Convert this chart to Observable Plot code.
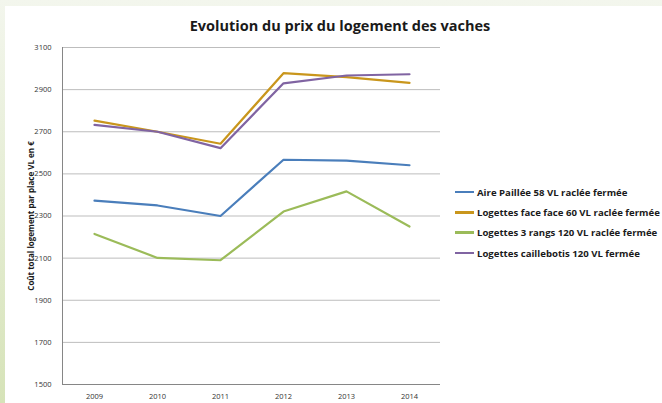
<!DOCTYPE html>
<html><head><meta charset="utf-8">
<script src="https://cdn.jsdelivr.net/npm/d3@7"></script>
<script src="https://cdn.jsdelivr.net/npm/@observablehq/plot@0.6"></script>
<style>
html,body{margin:0;padding:0;}
body{width:662px;height:403px;overflow:hidden;position:relative;background:linear-gradient(to bottom,#f3f6ed,#d6e3b8);font-family:"Open Sans",sans-serif;}
#card{position:absolute;left:5px;top:6px;width:657px;height:397px;background:#fff;overflow:hidden;}
#title{position:absolute;left:0;width:670px;top:10px;text-align:center;font-weight:bold;font-size:14.5px;color:#1a1a1a;}
#ylab{position:absolute;left:25px;top:210px;transform:translate(-50%,-50%) rotate(-90deg);white-space:nowrap;font-weight:bold;font-size:8px;color:#1a1a1a;}
#legend{position:absolute;left:450px;top:176px;font-weight:bold;font-size:9.6px;color:#1a1a1a;white-space:nowrap;}
.li{display:flex;align-items:center;height:20.3px;}
.sw{width:19px;height:2.5px;margin-right:3px;}
#chart{position:absolute;left:0;top:0;}
</style></head>
<body>
<div id="card">
<div id="chart"></div>
<div id="title">Evolution du prix du logement des vaches</div>
<div id="ylab">Coût total logement par place VL en €</div>
<div id="legend"></div>
</div>
<script>
const years = ["2009","2010","2011","2012","2013","2014"];
const seriesNames = [
  "Aire Paillée 58 VL raclée fermée",
  "Logettes face face 60 VL raclée fermée",
  "Logettes 3 rangs 120 VL raclée fermée",
  "Logettes caillebotis 120 VL fermée"
];
const airePaillee = [2373, 2350, 2300, 2567, 2563, 2541];
const logettesFaceFace = [2753, 2700, 2643, 2978, 2959, 2932];
const logettes3Rangs = [2215, 2101, 2090, 2321, 2417, 2250];
const logettesCaillebotis = [2733, 2700, 2622, 2930, 2967, 2973];
const yTicks = [1500,1700,1900,2100,2300,2500,2700,2900,3100];
const colors = ["#4a7ebb","#c9961c","#9bbb59","#8064a2"];

const allSeries = [airePaillee, logettesFaceFace, logettes3Rangs, logettesCaillebotis];
const data = [];
allSeries.forEach((vals, si) => vals.forEach((v, i) => data.push({year: years[i], value: v, series: seriesNames[si]})));

const chart = Plot.plot({
  width: 657, height: 397,
  marginLeft: 57, marginRight: 222, marginTop: 41, marginBottom: 19,
  style: {fontFamily: "'Open Sans', sans-serif", fontSize: "7.5px", color: "#333", background: "transparent"},
  x: {type: "point", domain: years, padding: 0.5, label: null},
  y: {domain: [1500, 3100], ticks: yTicks, label: null},
  color: {domain: seriesNames, range: colors},
  marks: [
    Plot.gridY(yTicks.filter(t => t > 1500), {stroke: "#bdbdbd", strokeOpacity: 1, strokeWidth: 1}),
    Plot.axisY({ticks: yTicks, tickSize: 0, tickPadding: 11, tickFormat: d => String(d), fill: "#333", label: null}),
    Plot.axisX({tickSize: 0, tickPadding: 9, fill: "#333", label: null}),
    Plot.line(data, {x: "year", y: "value", z: "series", stroke: "series", strokeWidth: 2.2, curve: "linear"}),
    Plot.ruleY([1500], {stroke: "#868686"})
  ]
});
document.getElementById("chart").appendChild(chart);
// left axis line
const svg = d3.select(chart);
svg.append("line").attr("x1", 57.5).attr("x2", 57.5).attr("y1", 41).attr("y2", 378).attr("stroke", "#868686");

const lg = document.getElementById("legend");
seriesNames.forEach((n, i) => {
  const d = document.createElement("div"); d.className = "li";
  const s = document.createElement("div"); s.className = "sw"; s.style.background = colors[i];
  const t = document.createElement("span"); t.textContent = n;
  d.appendChild(s); d.appendChild(t); lg.appendChild(d);
});
</script>
</body></html>
